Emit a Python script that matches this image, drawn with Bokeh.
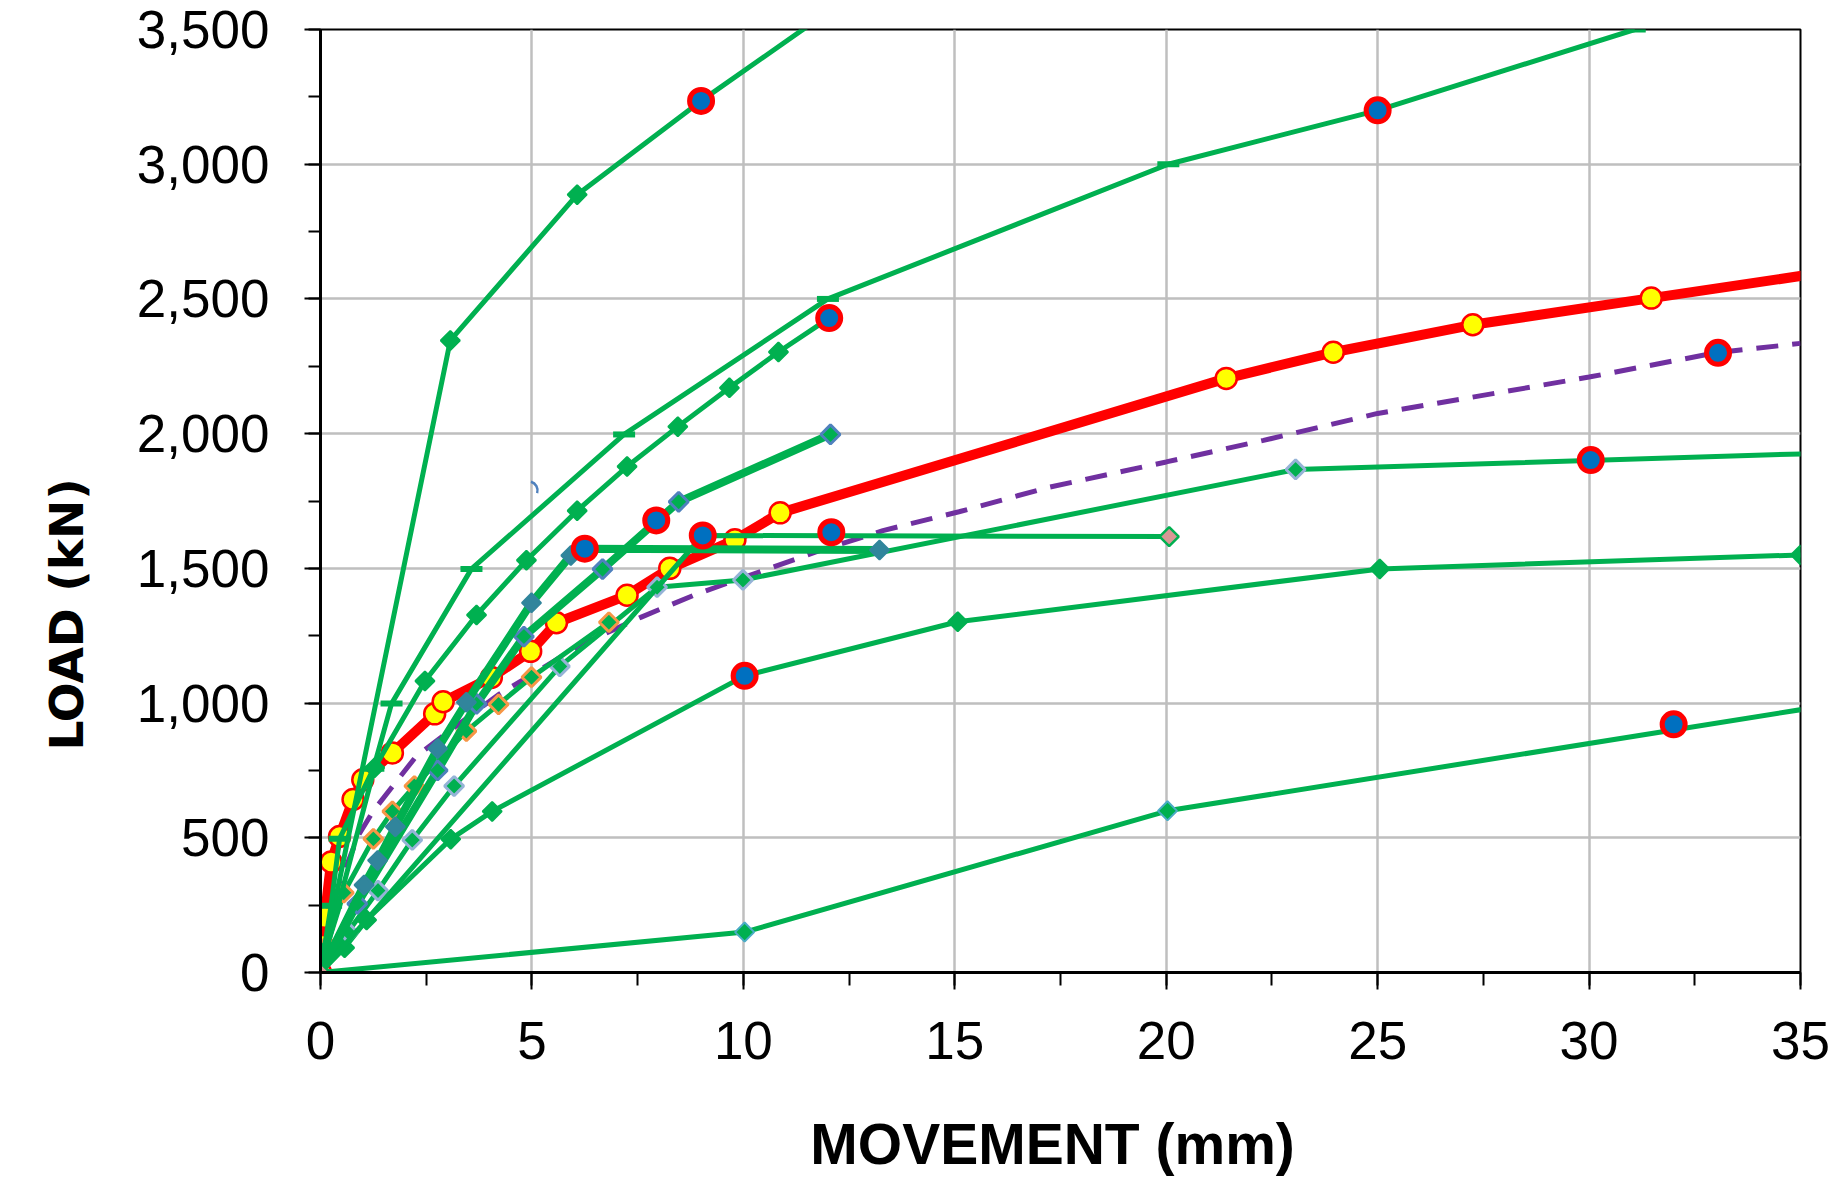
import math
from bokeh.plotting import figure
from bokeh.models import Range1d, SingleIntervalTicker, NumeralTickFormatter, Title
from bokeh.embed import file_html
from bokeh.resources import INLINE

# ---------------- data (movement mm, load kN) ----------------
# red thick reference curve with yellow circles
a_x = [0, 0.05, 0.1, 0.25, 0.45, 0.77, 1.0, 1.7, 2.7, 2.9, 4.04, 4.97, 5.58, 7.25, 8.26, 9.8, 10.87, 21.42, 23.95, 27.25, 31.47, 36.5]
a_y = [0, 100, 205, 410, 505, 642, 715, 815, 960, 1005, 1095, 1192, 1298, 1400, 1500, 1606, 1706, 2205, 2302, 2404, 2503, 2620]
# purple dashed curve
b_x = [0, 0.45, 0.9, 1.25, 1.75, 2.25, 2.95, 4.2, 6.2, 7.6, 8.9, 11.7, 13.3, 15.1, 17.2, 20.0, 22.3, 25.0, 30.0, 33.0, 35.0]
b_y = [0, 330, 510, 600, 700, 800, 885, 1030, 1220, 1320, 1405, 1560, 1640, 1710, 1800, 1895, 1975, 2075, 2210, 2300, 2335]
# green curves
c_x = [0, 3.07, 6.07, 9.0, 12.5]
c_y = [0, 2346, 2887, 3235, 3620]
d_x = [0, 0.25, 0.45, 1.25, 1.68, 3.57, 7.18, 12.0, 20.05, 25.0, 31.08]
d_y = [0, 248, 496, 756, 998, 1498, 1997, 2500, 3000, 3200, 3500]
e_x = [0, 1.28, 2.47, 3.69, 4.87, 6.07, 7.25, 8.45, 9.67, 10.83, 12.03]
e_y = [0, 760, 1082, 1327, 1530, 1714, 1878, 2026, 2170, 2303, 2429]
f_x = [0, 0.87, 2.77, 3.69, 4.81, 6.67, 8.47, 12.06]
f_y = [0, 255, 750, 997, 1247, 1497, 1747, 1997]
g_x = [0, 1.03, 1.35, 1.77, 2.77, 3.45, 4.99, 5.92, 6.25, 13.22]
g_y = [0, 325, 416, 541, 831, 1003, 1372, 1548, 1573, 1568]
h_x = [0, 9.04, 20.07]
h_y = [0, 1622, 1618]
j_x = [0, 0.57, 1.09, 3.08, 4.06, 10.03, 15.07, 25.05, 35.0]
j_y = [0, 92, 195, 495, 598, 1101, 1302, 1498, 1550]
k_x = [0, 0.65, 1.36, 2.17, 3.16, 5.66, 7.96, 9.99, 23.06, 36.5]
k_y = [0, 150, 304, 492, 692, 1136, 1430, 1457, 1867, 1932]
l_x = [0, 0.16, 0.55, 1.25, 1.70, 2.22, 3.45, 4.21, 4.99, 6.82]
l_y = [0, 100, 296, 496, 598, 692, 896, 995, 1096, 1300]
n_x = [0, 10.03, 20.03, 36.5]
n_y = [0, 150, 600, 1013]
# failure points (red ring, blue fill)
u_x = [9.0, 25.0, 12.03, 7.94, 6.25, 9.04, 12.08, 10.03, 30.04, 33.05, 32.0]
u_y = [3235, 3200, 2429, 1678, 1573, 1622, 1634, 1101, 1902, 2300, 921]
# small stray marker fragment
s_x = [4.92]
s_y = [1789]

x_ticks_interval = 5
y_ticks_interval = 500

GREEN = "#00B050"
RED = "#FF0000"
DIAMOND = math.pi / 4

p = figure(width=1831, height=1178, x_range=Range1d(0, 35), y_range=Range1d(0, 3500),
           output_backend="svg", toolbar_location=None,
           min_border_left=319, min_border_right=31, min_border_top=29, min_border_bottom=206)
p.background_fill_color = "white"
p.border_fill_color = "white"
p.outline_line_color = "black"
p.outline_line_width = 2

for ax, iv in ((p.xaxis, x_ticks_interval), (p.yaxis, y_ticks_interval)):
    ax.ticker = SingleIntervalTicker(interval=iv, num_minor_ticks=2)
    ax.axis_line_color = "black"
    ax.axis_line_width = 3
    ax.major_tick_line_color = "black"
    ax.major_tick_line_width = 2
    ax.minor_tick_line_color = "black"
    ax.minor_tick_line_width = 2
    ax.major_tick_in = 0
    ax.minor_tick_in = 0
    ax.major_label_text_font = "Liberation Sans"
    ax.major_label_text_font_size = "53px"
    ax.major_label_text_color = "black"

p.xaxis.major_tick_out = 17
p.xaxis.minor_tick_out = 13
p.yaxis.major_tick_out = 16
p.yaxis.minor_tick_out = 12
p.xaxis.major_label_standoff = 32
p.yaxis.major_label_standoff = 35
p.yaxis.formatter = NumeralTickFormatter(format="0,0")

p.xaxis.axis_label = "MOVEMENT  (mm)"
p.xaxis.axis_label_text_font = "Liberation Sans"
p.xaxis.axis_label_text_font_style = "bold"
p.xaxis.axis_label_text_font_size = "57px"
p.xaxis.axis_label_text_color = "black"
p.xaxis.axis_label_standoff = 50

ytitle = Title(text="LOAD  (kN)", align="left", offset=222, vertical_align="top", standoff=76,
               text_font="DejaVu Sans", text_font_style="bold",
               text_font_size="47px", text_color="black")
p.add_layout(ytitle, "left")

for g in (p.xgrid, p.ygrid):
    g.grid_line_color = "#BFBFBF"
    g.grid_line_width = 2.5

# purple dashed
p.line(b_x, b_y, line_color="#7030A0", line_width=5, line_dash="22 14")
# red reference
p.line(a_x, a_y, line_color=RED, line_width=10, line_join="round")
p.scatter(a_x, a_y, marker="circle", size=21, fill_color="#FFFF00", line_color=RED, line_width=2.5)

def green(xs, ys, width, fill, outline, mlw):
    p.line(xs, ys, line_color=GREEN, line_width=width, line_join="round")
    p.scatter(xs, ys, marker="square", angle=DIAMOND, size=13.5,
              fill_color=fill, line_color=outline, line_width=mlw)

THIN = 5
THICK = 8
green(n_x, n_y, THIN, GREEN, "#4BACC6", 2)
green(j_x, j_y, THIN, GREEN, GREEN, 2)
green(k_x, k_y, THIN, GREEN, "#95B3D7", 3)
green(l_x, l_y, THIN, GREEN, "#F79646", 3)
green(c_x, c_y, THIN, GREEN, GREEN, 2)
green(e_x, e_y, THIN, GREEN, GREEN, 2)
p.line(d_x, d_y, line_color=GREEN, line_width=THIN, line_join="round")
p.scatter(d_x, d_y, marker="dash", size=22, line_color=GREEN, line_width=6)
green(f_x, f_y, THICK, GREEN, "#4F81BD", 3)
green(g_x, g_y, THICK, "#31859C", "#31859C", 2)
green(h_x, h_y, THIN, "#D99795", GREEN, 2.5)

p.arc(s_x, s_y, radius=9, radius_units="screen", start_angle=-0.3, end_angle=1.3,
      line_color="#4F81BD", line_width=2.5)

p.scatter(u_x, u_y, marker="circle", size=23, fill_color="#0070C0", line_color=RED, line_width=5)

open("out.html", "w").write(file_html(p, INLINE))
